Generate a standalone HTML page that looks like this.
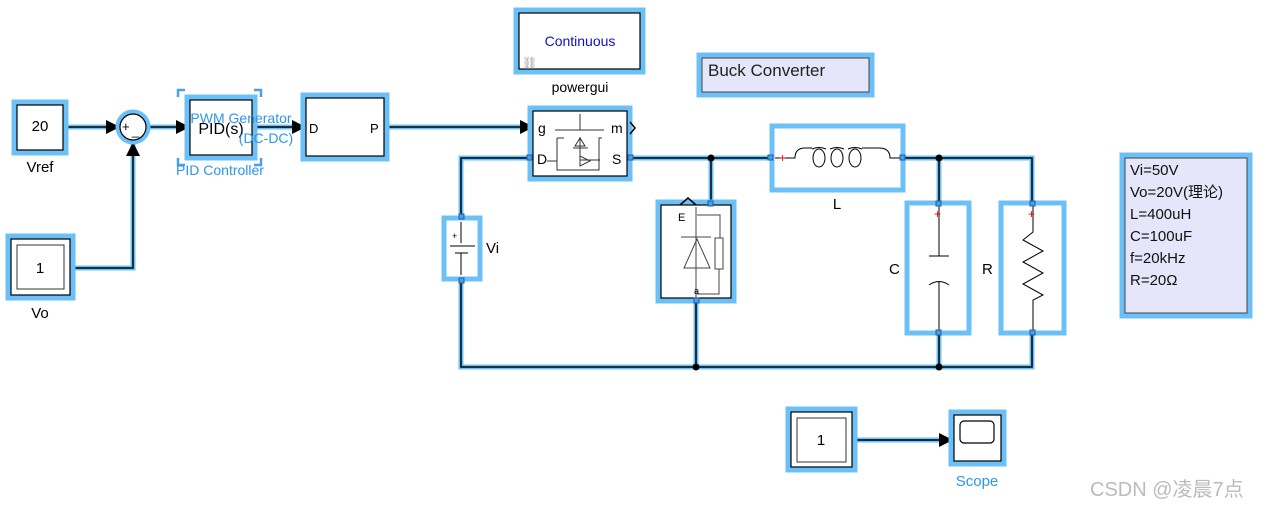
<!DOCTYPE html>
<html><head><meta charset="utf-8"><style>
html,body{margin:0;padding:0;background:#fff;width:1274px;height:508px;overflow:hidden}
svg text{font-family:"Liberation Sans","Noto Sans CJK SC",sans-serif}
</style></head><body>
<svg width="1274" height="508" viewBox="0 0 1274 508" xmlns="http://www.w3.org/2000/svg">
<defs>
<marker id="ar" markerWidth="14" markerHeight="14" refX="13" refY="7" orient="auto" markerUnits="userSpaceOnUse">
<path d="M0,0 L14,7 L0,14 z" fill="#000"/></marker>
</defs>
<g fill="none" stroke-linejoin="miter">
<g stroke="#6cc0f8" stroke-width="5">
<path d="M64,127H117"/><path d="M150,127H187"/><path d="M253,127H303"/><path d="M385,127H530"/>
<path d="M71,268H133V144"/>
<path d="M530,158H461V216"/><path d="M461,281V367H1032V335"/>
<path d="M630,158H771"/><path d="M711,158V204"/><path d="M696,299V367"/>
<path d="M903,158H1032V204"/><path d="M939,158V204"/><path d="M939,333V367"/>
<path d="M857,440H948"/>
</g>
<g stroke="#000" stroke-width="1.5">
<path d="M64,127H119" marker-end="url(#ar)"/><path d="M150,127H189" marker-end="url(#ar)"/>
<path d="M253,127H305" marker-end="url(#ar)"/><path d="M385,127H533" marker-end="url(#ar)"/>
<path d="M71,268H133V143" marker-end="url(#ar)"/>
<path d="M530,158H461V216"/><path d="M461,281V367H1032V335"/>
<path d="M630,158H771"/><path d="M711,158V204"/><path d="M696,299V367"/>
<path d="M903,158H1032V204"/><path d="M939,158V204"/><path d="M939,333V367"/>
<path d="M857,440H952" marker-end="url(#ar)"/>
</g>
</g>
<g fill="#000"><circle cx="711" cy="158" r="3.5"/><circle cx="939" cy="158" r="3.5"/><circle cx="696" cy="367" r="3.5"/><circle cx="939" cy="367" r="3.5"/></g>

<g fill="#fff" stroke="#6cc0f8" stroke-width="5">
<rect x="14" y="102" width="52" height="51"/>
<circle cx="133" cy="127" r="15"/>
<rect x="187" y="97" width="68" height="61"/>
<rect x="303" y="95" width="84" height="64"/>
<rect x="8" y="236" width="65" height="62"/>
<rect x="516" y="10" width="127" height="62"/>
<rect x="699" y="55" width="173" height="40"/>
<rect x="530" y="108" width="100" height="71"/>
<rect x="444" y="218" width="36" height="61"/>
<rect x="658" y="202" width="76" height="99"/>
<rect x="772" y="126" width="131" height="64"/>
<rect x="907" y="203" width="62" height="130"/>
<rect x="1001" y="203" width="63" height="130"/>
<rect x="1122" y="155" width="128" height="161"/>
<rect x="788" y="409" width="67" height="61"/>
<rect x="951" y="412" width="53" height="52"/>
</g>
<g fill="#fff" stroke="#000" stroke-width="1.2">
<rect x="17" y="105" width="46" height="45"/>
<circle cx="133" cy="127" r="13"/>
<rect x="190" y="100" width="62" height="55"/>
<rect x="306" y="98" width="78" height="58"/>
<rect x="11" y="239" width="59" height="56"/>
<rect x="17" y="245" width="47" height="44" stroke="#333" stroke-width="1"/>
<rect x="519" y="13" width="121" height="56"/>
<rect x="533" y="111" width="94" height="65"/>
<rect x="661" y="205" width="70" height="93"/>
<rect x="791" y="412" width="61" height="55"/>
<rect x="797" y="418" width="49" height="44" stroke="#333" stroke-width="1"/>
<rect x="954" y="415" width="47" height="46"/>
<rect x="960" y="421" width="34" height="22" rx="4"/>
</g>
<rect x="702" y="58" width="167" height="34" fill="#e6e6fa" stroke="#444" stroke-width="1"/>
<rect x="1125" y="158" width="122" height="155" fill="#e6e6fa" stroke="#444" stroke-width="1"/>
<rect x="447" y="221" width="30" height="55" fill="#fff" stroke="none"/>
<rect x="775" y="129" width="125" height="58" fill="#fff" stroke="none"/>
<rect x="910" y="206" width="56" height="124" fill="#fff" stroke="none"/>
<rect x="1004" y="206" width="57" height="124" fill="#fff" stroke="none"/>

<g stroke="#4a9ff0" stroke-width="2.5" fill="none">
<path d="M178,97V90H185"/><path d="M254,90H261V97"/><path d="M178,158V165H185"/><path d="M254,165H261V158"/>
</g>

<g stroke="#333" stroke-width="1" fill="none">
<path d="M555,130H604M580,114V130M557,138H564M557,138V170H599V138H602M580,137V160H600M573,148H588M580,138l-5,8h10z"/>
<path d="M547,161H557M590,161l-10,-5v10z"/>
</g>
<g stroke="#000" stroke-width="1" fill="none"><path d="M461,222V243M450,246H475M455,253H468M461,253V275"/></g>
<text x="452" y="239" font-size="9">+</text>
<g stroke="#444" stroke-width="1" fill="none">
<path d="M696,207V300M681,237H711M684,268H710L697,239Z"/>
<path d="M697,215H720V238M715,238H723V269H715ZM719,269V294H697"/>
<path d="M680,205l8,-7l8,7" stroke="#000" stroke-width="1.5"/>
</g>
<text x="678" y="221" font-size="11">E</text>
<text x="694" y="294" font-size="9">a</text>
<g stroke="#000" stroke-width="1" fill="none">
<path d="M775,158H795Q795,148 805,148H812 M862,148H879Q890,148 890,158H901"/>
<ellipse cx="819" cy="158" rx="6" ry="9"/><ellipse cx="837" cy="158" rx="6" ry="9"/><ellipse cx="855" cy="158" rx="6" ry="9"/>
<path d="M812,149Q819,146 826,149M830,149Q837,146 844,149M848,149Q855,146 862,149"/>
</g>
<g stroke="#000" stroke-width="1" fill="none"><path d="M939,206V256M929,256H949M929,285Q939,278 949,285M939,281V332"/></g>
<g stroke="#000" stroke-width="1" fill="none"><path d="M1033,206V232L1023,240L1043,251L1023,262L1043,273L1023,284L1043,295L1033,300V332"/></g>
<g fill="#e00" font-size="12"><text x="779" y="162">+</text><text x="934" y="218">+</text><text x="1028" y="218">+</text></g>
<g fill="#4aa0e8" stroke="#1a5fa0" stroke-width="1">
<rect x="527" y="155" width="5" height="5"/><rect x="628" y="155" width="5" height="5"/>
<rect x="459" y="214" width="5" height="5"/><rect x="459" y="278" width="5" height="5"/>
<rect x="708" y="201" width="5" height="5"/><rect x="694" y="298" width="5" height="5"/>
<rect x="768" y="155" width="5" height="5"/><rect x="900" y="155" width="5" height="5"/>
<rect x="936" y="201" width="5" height="5"/><rect x="936" y="330" width="5" height="5"/>
<rect x="1030" y="201" width="5" height="5"/><rect x="1030" y="330" width="5" height="5"/>
</g>
<path d="M630,122l5,6l-5,6" stroke="#000" stroke-width="1.5" fill="none"/>

<g font-size="15" fill="#000">
<text x="40" y="131" text-anchor="middle">20</text>
<text x="40" y="172" text-anchor="middle">Vref</text>
<text x="122" y="131" font-size="13">+</text><text x="132" y="135" font-size="13">_</text>
<text x="221" y="134" text-anchor="middle" font-size="16">PID(s)</text>
<text x="309" y="133" font-size="13">D</text><text x="370" y="133" font-size="13">P</text>
<text x="40" y="273" text-anchor="middle">1</text>
<text x="40" y="318" text-anchor="middle">Vo</text>
<text x="580" y="92" text-anchor="middle" font-size="14">powergui</text>
<text x="538" y="133" font-size="14">g</text><text x="611" y="133" font-size="14">m</text>
<text x="537" y="164" font-size="14">D</text><text x="612" y="164" font-size="14">S</text>
<text x="486" y="253">Vi</text>
<text x="837" y="209" text-anchor="middle">L</text>
<text x="889" y="274">C</text><text x="982" y="274">R</text>
<text x="821" y="445" text-anchor="middle">1</text>
<text x="708" y="76" font-size="17" fill="#222">Buck Converter</text>
</g>
<g font-size="15" fill="#111">
<text x="1130" y="175">Vi=50V</text><text x="1130" y="197">Vo=20V(理论)</text>
<text x="1130" y="219">L=400uH</text><text x="1130" y="241">C=100uF</text>
<text x="1130" y="263">f=20kHz</text><text x="1130" y="285">R=20Ω</text>
</g>
<text x="580" y="46" text-anchor="middle" font-size="14" fill="#1010c0">Continuous</text>
<text x="522" y="67" font-size="12" fill="#999">⛓</text>
<g fill="#2d95ec" font-size="14">
<text x="241" y="123" text-anchor="middle">PWM Generator</text>
<text x="266" y="143" text-anchor="middle">(DC-DC)</text>
<text x="220" y="175" text-anchor="middle">PID Controller</text>
<text x="977" y="486" text-anchor="middle" font-size="15">Scope</text>
</g>
<text x="1090" y="496" font-size="20" fill="#bbb">CSDN @凌晨7点</text>
</svg>
</body></html>
